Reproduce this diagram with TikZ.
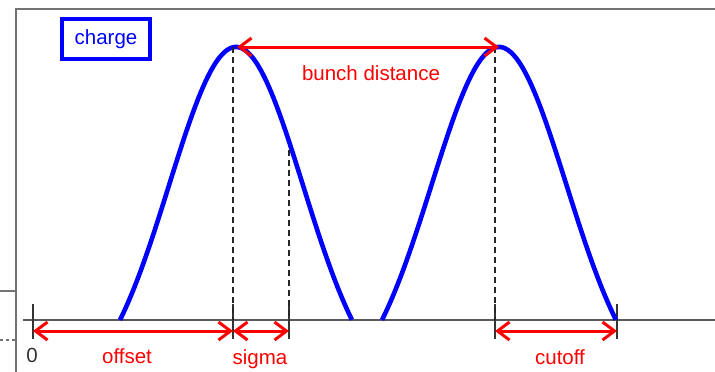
\documentclass[tikz,border=0pt]{standalone}
\usepackage{fontspec}
\setmainfont{Liberation Sans}
\usetikzlibrary{arrows.meta}
\begin{document}
\begin{tikzpicture}[x=1pt,y=-1pt,
  frameline/.style={draw=black!55, line width=1.3pt},
  axisline/.style={draw=black!65, line width=2.6pt},
  tickline/.style={draw=black!80, line width=2pt},
  guide/.style={draw=black!85, line width=2pt, dash pattern=on 6pt off 4pt},
  pulse/.style={draw=blue, line width=4.6pt},
  dim/.style={draw=red, line width=3pt, {Straight Barb[length=12pt,width=18pt]}-{Straight Barb[length=12pt,width=18pt]}},
  lbl/.style={text=red, font=\fontsize{20.5}{24}\selectfont, inner sep=0pt},
]
\useasboundingbox (0,0) rectangle (715,372);
% frame remnants
\draw[frameline] (715,9) -- (16,9) -- (16,372);
\draw[frameline] (0,291) -- (16,291);
\draw[frameline, dash pattern=on 3pt off 3pt] (0,340) -- (16,340);
% axis
\coordinate (axL) at (23,320);
\coordinate (axR) at (715,320);
\draw[axisline] (axL) -- (axR);
% ticks
\foreach \n/\x in {t0/33, t1/233, t2/289, t3/495, t4/617}{
  \coordinate (\n top) at (\x,304);
  \coordinate (\n bot) at (\x,339);
  \coordinate (\n) at (\x,331);
  \draw[tickline] (\n top) -- (\n bot);
}
% pulses
\draw[pulse] plot[domain=-1:1, samples=90, smooth]
  ({236+116*\x}, {320-273*(exp(-1.5*\x*\x)-0.2231)/0.7769});
\draw[pulse] plot[domain=-1:1, samples=90, smooth]
  ({499+117*\x}, {320-273*(exp(-1.5*\x*\x)-0.2231)/0.7769});
% guides
\coordinate (p1) at (233,47);
\coordinate (p1b) at (233,320);
\coordinate (s1) at (289,150);
\coordinate (s1b) at (289,320);
\coordinate (p2) at (495,47);
\coordinate (p2b) at (495,320);
\draw[guide] (p1) -- (p1b);
\draw[guide] (s1) -- (s1b);
\draw[guide] (p2) -- (p2b);
% dimension arrows
\coordinate (b1) at (237,47);
\coordinate (b2) at (499,47);
\draw[dim] (b1) -- (b2);
\draw[dim] (t0) -- (t1);
\draw[dim] (t1) -- (t2);
\draw[dim] (t3) -- (t4);
% labels
\node[lbl] (bd) at (371,73) {bunch distance};
\node[lbl] (off) at (127,356) {offset};
\node[lbl] (sig) at (260,359) {sigma};
\node[lbl] (cut) at (560,357) {cutoff};
\node[lbl, text=black!80] (zero) at (32,355) {0};
\node[draw=blue, line width=3.2pt, text=blue, font=\fontsize{20.5}{24}\selectfont,
      minimum width=88pt, minimum height=40pt, inner sep=0pt] (charge) at (106,39) {charge};
\end{tikzpicture}
\end{document}
